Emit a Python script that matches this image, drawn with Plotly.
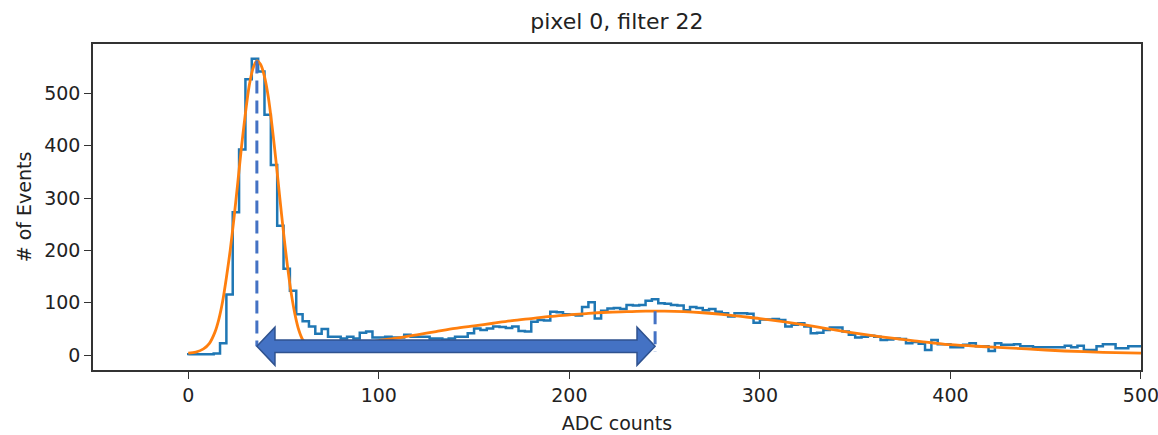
import numpy as np
import plotly.graph_objects as go

# ---------------- data ----------------
title_text = "pixel 0, filter 22"
x_label = "ADC counts"
y_label = "# of Events"

bin_range = [0, 500]
n_bins = 150

hist_counts = [
    2, 2, 2, 2, 3, 23, 116, 273, 393, 527,
    566, 542, 459, 363, 247, 165, 123, 78, 65, 55,
    41, 50, 35, 35, 32, 35, 32, 43, 45, 34,
    34, 35, 34, 34, 39, 35, 35, 35, 32, 32,
    30, 32, 35, 35, 42, 51, 48, 51, 55, 54,
    52, 55, 46, 45, 64, 67, 66, 83, 82, 78,
    77, 76, 92, 101, 70, 85, 89, 90, 88, 96,
    95, 96, 104, 107, 99, 98, 96, 95, 86, 92,
    90, 86, 88, 83, 80, 74, 80, 80, 79, 62,
    68, 68, 69, 67, 55, 58, 61, 55, 42, 43,
    48, 53, 53, 45, 39, 34, 35, 37, 35, 29,
    30, 32, 31, 23, 25, 22, 10, 29, 21, 21,
    15, 15, 20, 23, 17, 17, 8, 23, 20, 20,
    21, 17, 17, 15, 15, 15, 15, 15, 18, 15,
    18, 10, 10, 17, 21, 21, 13, 13, 17, 17,
]

fit_x = [0, 4, 8, 11, 14, 16, 18, 20, 22, 24, 26, 28, 30, 32, 34, 36, 38,
         40, 42, 44, 46, 48, 50, 52, 54, 56, 58, 60, 63, 67, 72, 80, 90,
         100, 110, 120, 130, 140, 150, 160, 170, 180, 190, 200, 210, 220,
         230, 240, 250, 260, 270, 280, 290, 300, 320, 340, 360, 380, 400,
         420, 440, 460, 480, 500]
fit_y = [4, 6, 12, 22, 44, 68, 102, 148, 200, 262, 330, 400, 462, 515, 548,
         562, 555, 532, 493, 437, 372, 302, 234, 172, 119, 78, 48, 30, 20,
         16, 16, 18, 22, 28, 33, 39, 45, 51, 56, 61, 66, 70, 74, 77, 80, 82,
         83, 84, 84, 83, 81, 78, 74, 70, 60, 48, 37, 28, 20, 16, 12, 8, 5.5, 4]

peak1_pos = 36      # pedestal peak
peak1_top = 563
peak2_pos = 245     # signal peak
peak2_top = 84

x_ticks = [0, 100, 200, 300, 400, 500]
y_ticks = [0, 100, 200, 300, 400, 500]
x_range = [-50, 500.01]
y_range = [-28.3, 594.3]

# ---------------- styles ----------------
BLUE = "#1f77b4"
ORANGE = "#ff7f0e"
ANNOT = "#4472C4"
ANNOT_EDGE = "#2F528F"
TEXT = "#222222"
FONT = "DejaVu Sans"

edges = np.linspace(bin_range[0], bin_range[1], n_bins + 1)
step_x = [edges[0]] + list(edges)
step_y = [0] + list(hist_counts) + [hist_counts[-1]]

fig = go.Figure()
fig.add_trace(go.Scatter(
    x=step_x, y=step_y, mode="lines", line=dict(color=BLUE, width=2.5, shape="hv"),
    hoverinfo="skip", showlegend=False, cliponaxis=True))
fig.add_trace(go.Scatter(
    x=fit_x, y=fit_y, mode="lines",
    line=dict(color=ORANGE, width=2.8, shape="spline", smoothing=0.8),
    hoverinfo="skip", showlegend=False))

# arrow geometry (style sizes)
arrow_mid = 17
shaft_half = 12
head_half = 36.5
head_len = 9.5
xa, xb = peak1_pos, peak2_pos
arrow_path = (
    f"M {xa},{arrow_mid} "
    f"L {xa + head_len},{arrow_mid + head_half} "
    f"L {xa + head_len},{arrow_mid + shaft_half} "
    f"L {xb - head_len},{arrow_mid + shaft_half} "
    f"L {xb - head_len},{arrow_mid + head_half} "
    f"L {xb},{arrow_mid} "
    f"L {xb - head_len},{arrow_mid - head_half} "
    f"L {xb - head_len},{arrow_mid - shaft_half} "
    f"L {xa + head_len},{arrow_mid - shaft_half} "
    f"L {xa + head_len},{arrow_mid - head_half} Z"
)

shapes = [
    dict(type="line", xref="x", yref="y", x0=peak1_pos, x1=peak1_pos,
         y0=peak1_top, y1=arrow_mid, line=dict(color=ANNOT, width=3, dash="13px,7px")),
    dict(type="path", xref="x", yref="y", path=arrow_path,
         fillcolor=ANNOT, line=dict(color=ANNOT_EDGE, width=1.5)),
    dict(type="line", xref="x", yref="y", x0=peak2_pos, x1=peak2_pos,
         y0=peak2_top, y1=arrow_mid - 10, line=dict(color=ANNOT, width=3, dash="13px,7px")),
]

axis_common = dict(
    showgrid=False, zeroline=False, showline=True, linecolor="#333333", linewidth=1.5,
    mirror=True, ticks="outside", ticklen=7, tickwidth=1.3, tickcolor="#333333",
    tickfont=dict(family=FONT, size=19, color=TEXT), automargin=False,
    ticklabeloverflow="allow",
)

fig.update_layout(
    width=1158, height=435,
    margin=dict(l=93, r=17, t=44, b=65),
    paper_bgcolor="white", plot_bgcolor="white",
    title=dict(text=title_text, x=0.5327, xanchor="center", xref="container",
               y=0.95, yanchor="middle", yref="container",
               font=dict(family=FONT, size=22, color=TEXT)),
    xaxis=dict(range=x_range, tickvals=x_ticks, ticktext=[str(t) for t in x_ticks],
               title=dict(text=x_label, font=dict(family=FONT, size=19, color=TEXT), standoff=12),
               **axis_common),
    yaxis=dict(range=y_range, tickvals=y_ticks, ticktext=[str(t) for t in y_ticks],
               title=dict(text=y_label, font=dict(family=FONT, size=19, color=TEXT), standoff=8),
               **axis_common),
    shapes=shapes,
    font=dict(family=FONT, color=TEXT),
)

fig.write_html("out.html", config={"displayModeBar": False},
               post_script="document.body.style.margin='0px';document.body.style.overflow='hidden';")
